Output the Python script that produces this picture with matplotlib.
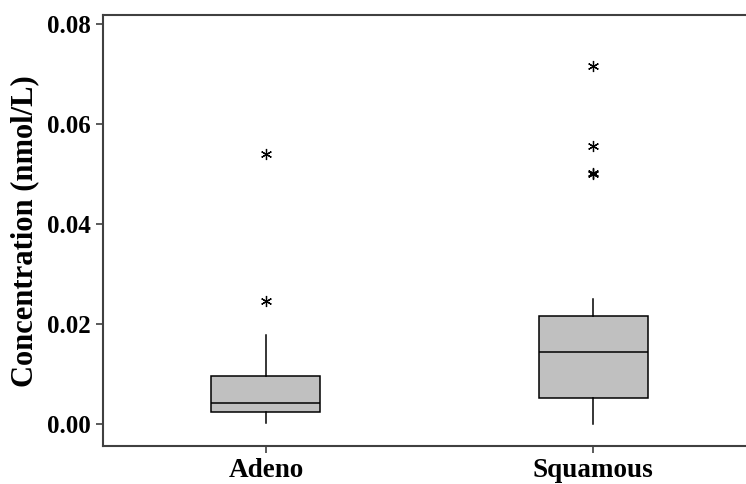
import matplotlib
matplotlib.use("Agg")
import matplotlib.pyplot as plt

plt.rcParams['font.family'] = ['Liberation Serif', 'DejaVu Serif']
plt.rcParams['font.weight'] = 'bold'

groups = ["Adeno", "Squamous"]
whisker_low = [0.0003, 0.0001]
q1 = [0.0024, 0.0053]
median = [0.0043, 0.01445]
q3 = [0.0096, 0.0216]
whisker_high = [0.0178, 0.0250]
outliers = [[0.0247, 0.0540], [0.0500, 0.0503, 0.0557, 0.0716]]

yticks = [0.00, 0.02, 0.04, 0.06, 0.08]

stats = []
for i in range(len(groups)):
    stats.append({
        "label": groups[i],
        "whislo": whisker_low[i],
        "q1": q1[i],
        "med": median[i],
        "q3": q3[i],
        "whishi": whisker_high[i],
        "fliers": outliers[i],
    })

fig = plt.figure(figsize=(7.46, 4.84), dpi=100)
ax = fig.add_axes([0.138, 0.079, 0.862, 0.889])

ax.bxp(stats, positions=[1, 2], widths=0.333, patch_artist=True, showcaps=False,
       boxprops=dict(facecolor="#c0c0c0", edgecolor="black", linewidth=1.1),
       medianprops=dict(color="black", linewidth=1.1),
       whiskerprops=dict(color="black", linewidth=1.1),
       flierprops=dict(marker=(6, 2, 0), markersize=8, markeredgecolor="black",
                       markeredgewidth=0.9, linestyle="none"))

ax.set_xlim(0.502, 2.467)
ax.set_ylim(-0.00428, 0.0817)
ax.set_yticks(yticks)
ax.set_yticklabels(["%.2f" % v for v in yticks], fontsize=18, fontweight="bold")
ax.set_xticks([1, 2])
ax.set_xticklabels(groups, fontsize=19.5, fontweight="bold")
ax.set_ylabel("Concentration (nmol/L)", fontsize=22, fontweight="bold", labelpad=6)

for s in ["left", "top", "bottom"]:
    ax.spines[s].set_color("#404040")
    ax.spines[s].set_linewidth(1.5)
ax.spines["right"].set_visible(False)
ax.tick_params(axis="both", direction="out", length=5, width=1.2, color="#404040")
ax.tick_params(axis="x", pad=4)

fig.savefig("out.png", dpi=100)
